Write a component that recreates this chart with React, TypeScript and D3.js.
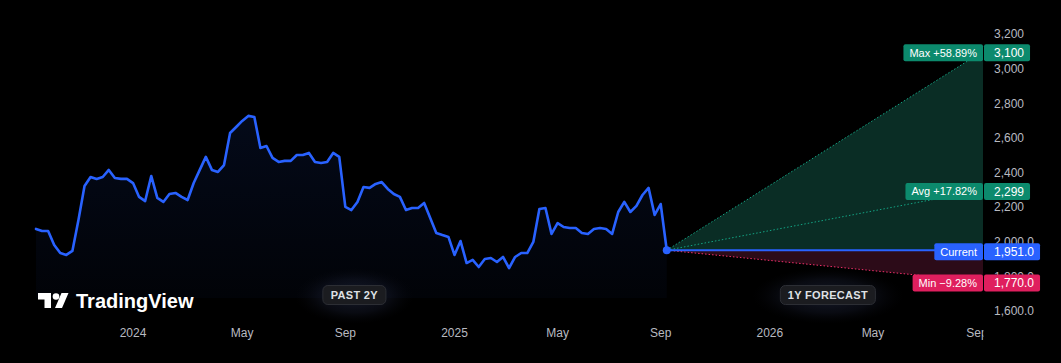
import React from "react";
import * as d3 from "d3";

// ---------- data ----------
const startDate = "2023-09-11"; // first weekly bar
const forecastEndDate = "2026-09-08";
const weeklyClose = [
  2074, 2062, 2062, 1981, 1935, 1924, 1947, 2126, 2322, 2374,
  2363, 2374, 2415, 2368, 2363, 2363, 2339, 2259, 2235, 2380,
  2253, 2230, 2276, 2282, 2259, 2241, 2339, 2415, 2490, 2415,
  2403, 2443, 2628, 2663, 2698, 2727, 2721, 2542, 2553, 2484,
  2461, 2467, 2467, 2501, 2501, 2513, 2461, 2455, 2461, 2513,
  2490, 2201, 2183, 2230, 2316, 2311, 2334, 2345, 2305, 2276,
  2259, 2183, 2195, 2195, 2224, 2137, 2051, 2039, 2028, 1924,
  2004, 1877, 1895, 1854, 1900, 1906, 1883, 1912, 1848, 1912,
  1935, 1935, 1999, 2189, 2195, 2045, 2108, 2085, 2079, 2079,
  2051, 2045, 2074, 2079, 2074, 2045, 2172, 2230, 2172, 2207,
  2270, 2311, 2155, 2218, 1951,
];
const currentValue = 1951.0;
const forecastLabels = ["Max +58.89%", "Avg +17.82%", "Current", "Min \u22129.28%"];
const forecastValues = [3100, 2299, 1951.0, 1770.0];
const forecastValueLabels = ["3,100", "2,299", "1,951.0", "1,770.0"];
const yTickValues = [3200, 3000, 2800, 2600, 2400, 2200, 2000, 1800, 1600];
const yTickLabels = ["3,200", "3,000", "2,800", "2,600", "2,400", "2,200", "2,000.0", "1,800.0", "1,600.0"];
const xTickDates = ["2024-01-01", "2024-05-06", "2024-09-02", "2025-01-06", "2025-05-05", "2025-09-01", "2026-01-05", "2026-05-04", "2026-09-01"];
const xTickLabels = ["2024", "May", "Sep", "2025", "May", "Sep", "2026", "May", "Sep"];

// ---------- styles ----------
const W = 1061;
const H = 363;
const FONT = "'Liberation Sans', Arial, sans-serif";
const BLUE = "#2962ff";
const GREEN = "#0c8a6d";
const PINK = "#df1f5e";
const AXIS_TEXT = "#b8bac0";

const parse = d3.timeParse("%Y-%m-%d");

let measureCtx: CanvasRenderingContext2D | null = null;
function textWidth(t: string, font: string) {
  if (!measureCtx) measureCtx = document.createElement("canvas").getContext("2d");
  if (!measureCtx) return t.length * 6;
  measureCtx.font = font;
  return measureCtx.measureText(t).width;
}

export default function App() {
  const t0 = parse(startDate) as Date;
  const tEnd = parse(forecastEndDate) as Date;
  const x = d3.scaleTime().domain([t0, tEnd]).range([36, 983]);
  const y = d3.scaleLinear().domain([1600, 3200]).range([311, 34]);

  const pts = weeklyClose.map((v, i) => ({ d: d3.timeDay.offset(t0, i * 7), v }));
  const areaBottom = 298;
  const area = d3
    .area<{ d: Date; v: number }>()
    .x((p) => x(p.d))
    .y0(areaBottom)
    .y1((p) => y(p.v));
  const line = d3
    .line<{ d: Date; v: number }>()
    .x((p) => x(p.d))
    .y((p) => y(p.v));

  const last = pts[pts.length - 1];
  const fx0 = x(last.d);
  const fy0 = y(currentValue);
  const fx1 = x(tEnd);
  const yMax = y(forecastValues[0]);
  const yAvg = y(forecastValues[1]);
  const yMin = y(forecastValues[3]);

  const greenPoly = `M${fx0},${fy0}L${fx1},${yMax}L${fx1},${fy0}Z`;
  const redPoly = `M${fx0},${fy0}L${fx1},${fy0}L${fx1},${yMin}Z`;

  const badgeColors = [GREEN, GREEN, BLUE, PINK];
  const pastCenter = (x(t0) + fx0) / 2;
  const futureCenter = (fx0 + fx1) / 2;

  const buttons = [
    { label: "PAST 2Y", cx: pastCenter + 3 },
    { label: "1Y FORECAST", cx: futureCenter + 3 },
  ];

  return (
    <div style={{ width: W, height: H, background: "#000" }}>
      <style>{"body{margin:0;background:#000;}"}</style>
      <svg width={W} height={H} style={{ display: "block", background: "#000" }}>
        <defs>
          <linearGradient id="pastFill" x1="0" y1="0" x2="0" y2="1">
            <stop offset="0%" stopColor={BLUE} stopOpacity={0.1} />
            <stop offset="100%" stopColor={BLUE} stopOpacity={0.03} />
          </linearGradient>
          <radialGradient id="glow" cx="50%" cy="50%" r="50%">
            <stop offset="0%" stopColor="#2a3150" stopOpacity={0.55} />
            <stop offset="60%" stopColor="#1a1f33" stopOpacity={0.35} />
            <stop offset="100%" stopColor="#0a0c14" stopOpacity={0} />
          </radialGradient>
          <clipPath id="plotClip">
            <rect x={0} y={0} width={983.5} height={H} />
          </clipPath>
        </defs>

        {/* past area and line */}
        <path d={area(pts) || ""} fill="url(#pastFill)" />

        {/* forecast zones */}
        <path d={greenPoly} fill="#0a2d25" />
        <path d={redPoly} fill="#2c0b18" />
        <line x1={fx0} y1={fy0} x2={fx1} y2={yMax} stroke="#13a383" strokeWidth={1} strokeDasharray="1.5,2" />
        <line x1={fx0} y1={fy0} x2={fx1} y2={yAvg} stroke="#13a383" strokeWidth={1} strokeDasharray="1.5,2" />
        <line x1={fx0} y1={fy0} x2={fx1} y2={yMin} stroke="#f0306a" strokeWidth={1} strokeDasharray="1.5,2" />
        <line x1={fx0} y1={fy0} x2={fx1} y2={fy0} stroke={BLUE} strokeWidth={2} />

        <path d={line(pts) || ""} fill="none" stroke={BLUE} strokeWidth={2.6} strokeLinejoin="round" strokeLinecap="round" />
        <circle cx={fx0} cy={fy0} r={4} fill={BLUE} />

        {/* logo */}
        <g fill="#ffffff">
          <path d="M38,293 H51 V308 H44.5 V299.5 H38 Z" />
          <circle cx={56} cy={296.5} r={3.3} />
          <path d="M61.5,293 H68.5 L62,308 H55 Z" />
          <text x={76} y={307.5} fontFamily={FONT} fontWeight={700} fontSize={20} fill="#ffffff">
            TradingView
          </text>
        </g>

        {/* buttons */}
        {buttons.map((b) => {
          const w = textWidth(b.label, `bold 11px ${FONT}`) + 18;
          return (
            <g key={b.label}>
              <ellipse cx={b.cx} cy={296} rx={w / 2 + 28} ry={28} fill="url(#glow)" />
              <rect x={b.cx - w / 2} y={285.5} width={w} height={19} rx={5} fill="#1b1c20" stroke="#2c2e34" strokeWidth={1} />
              <text x={b.cx} y={295} dy="0.36em" textAnchor="middle" fontFamily={FONT} fontWeight={700} fontSize={11} fill="#dfe1e6" letterSpacing={0.3}>
                {b.label}
              </text>
            </g>
          );
        })}

        {/* x axis labels */}
        <g clipPath="url(#plotClip)">
          {xTickDates.map((ds, i) => (
            <text key={ds} x={x(parse(ds) as Date)} y={337} textAnchor="middle" fontFamily={FONT} fontSize={12} fill={AXIS_TEXT}>
              {xTickLabels[i]}
            </text>
          ))}
        </g>

        {/* y axis labels */}
        {yTickValues.map((v, i) => (
          <text key={v} x={994} y={y(v)} dy="0.36em" fontFamily={FONT} fontSize={12} fill={AXIS_TEXT}>
            {yTickLabels[i]}
          </text>
        ))}

        {/* forecast badges */}
        {forecastValues.map((v, i) => {
          const cy = y(v) + 1.5;
          const lw = textWidth(forecastLabels[i], `11px ${FONT}`);
          const nw = textWidth(forecastValueLabels[i], `12px ${FONT}`);
          const lx = 983 - lw - 12;
          return (
            <g key={forecastLabels[i]}>
              <rect x={lx} y={cy - 8.5} width={983 - lx} height={17} rx={2} fill={badgeColors[i]} />
              <rect x={984} y={cy - 8.5} width={nw + 16} height={17} rx={2} fill={badgeColors[i]} />
              <text x={977} y={cy} dy="0.36em" textAnchor="end" fontFamily={FONT} fontSize={11} fill="#ffffff">
                {forecastLabels[i]}
              </text>
              <text x={994} y={cy} dy="0.36em" fontFamily={FONT} fontSize={12} fill="#ffffff">
                {forecastValueLabels[i]}
              </text>
            </g>
          );
        })}
      </svg>
    </div>
  );
}
